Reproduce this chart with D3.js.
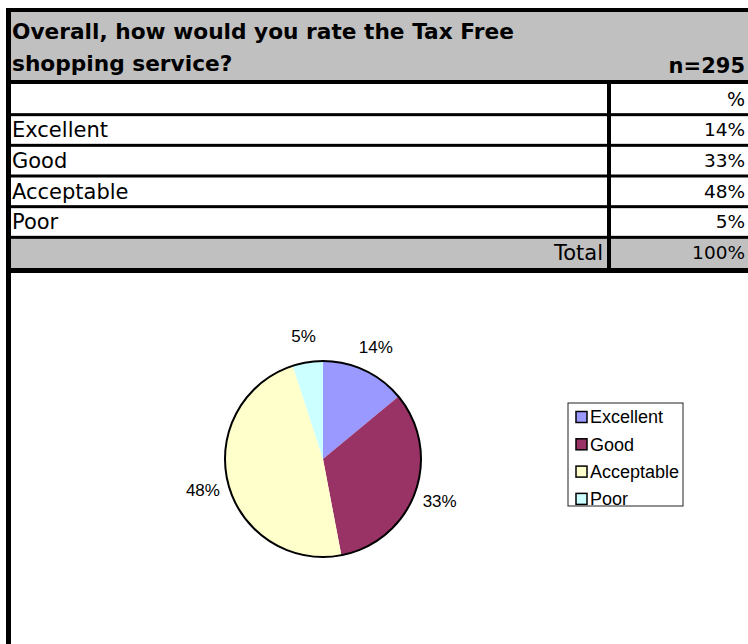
<!DOCTYPE html>
<html>
<head>
<meta charset="utf-8">
<script src="https://cdn.jsdelivr.net/npm/d3@7"></script>
<style>
  body { margin: 0; background: #fff; }
  svg { display: block; }
</style>
</head>
<body>
<div id="chart"></div>
<script>
// data
const titleLines = ["Overall, how would you rate the Tax Free", "shopping service?"];
const sampleLabel = "n=295";
const categories = ["Excellent", "Good", "Acceptable", "Poor"];
const percents = [14, 33, 48, 5];
const totalLabel = "Total";
const totalValue = "100%";
const sliceColors = ["#9999ff", "#993366", "#ffffcc", "#ccffff"];

const width = 748, height = 644;

let svg = d3.select("#chart").append("svg")
    .attr("width", width)
    .attr("height", height);

// table layout
let rowKeys = ["%"].concat(categories).concat([totalLabel]);
let y = d3.scaleBand()
    .domain(rowKeys)
    .range([84, 268])
    .padding(0);

let rowFont = "'DejaVu Sans', sans-serif";

// header
svg.append("rect").attr("x", 11).attr("y", 12).attr("width", width - 11).attr("height", 68).attr("fill", "#c0c0c0");
// total row
svg.append("rect").attr("x", 11).attr("y", y(totalLabel)).attr("width", width - 11).attr("height", y.bandwidth()).attr("fill", "#c0c0c0");

// borders
svg.append("rect").attr("x", 6).attr("y", 8).attr("width", width - 6).attr("height", 4).attr("fill", "#000");
svg.append("rect").attr("x", 6).attr("y", 8).attr("width", 5).attr("height", height - 8).attr("fill", "#000");
svg.append("rect").attr("x", 11).attr("y", 80).attr("width", width - 11).attr("height", 4).attr("fill", "#000");
svg.append("rect").attr("x", 11).attr("y", 268).attr("width", width - 11).attr("height", 5).attr("fill", "#000");

// row separators
svg.selectAll(".row-line")
    .data(rowKeys.slice(1))
    .enter().append("rect")
    .attr("class", "row-line")
    .attr("x", 11)
    .attr("y", d => y(d) - 1.5)
    .attr("width", width - 11)
    .attr("height", 3)
    .attr("fill", "#000");

// column separator
svg.append("rect").attr("x", 607).attr("y", 84).attr("width", 4).attr("height", 184).attr("fill", "#000");

// title
svg.selectAll(".title")
    .data(titleLines)
    .enter().append("text")
    .attr("class", "title")
    .attr("x", 12)
    .attr("y", (d, i) => 31 + i * 32)
    .attr("dy", "0.35em")
    .style("font-family", rowFont)
    .style("font-weight", "bold")
    .style("font-size", "21.7px")
    .text(d => d);

svg.append("text")
    .attr("x", 745)
    .attr("y", 66)
    .attr("dy", "0.35em")
    .attr("text-anchor", "end")
    .style("font-family", rowFont)
    .style("font-weight", "bold")
    .style("font-size", "21px")
    .text(sampleLabel);

// row labels + values
let rows = categories.map((c, i) => ({label: c, value: percents[i] + "%"}));

svg.append("text")
    .attr("x", 745)
    .attr("y", y("%") + y.bandwidth() / 2)
    .attr("dy", "0.35em")
    .attr("text-anchor", "end")
    .style("font-family", rowFont)
    .style("font-size", "19px")
    .text("%");

svg.selectAll(".row-label")
    .data(rows)
    .enter().append("text")
    .attr("class", "row-label")
    .attr("x", 12)
    .attr("y", d => y(d.label) + y.bandwidth() / 2)
    .attr("dy", "0.35em")
    .style("font-family", rowFont)
    .style("font-size", "21px")
    .text(d => d.label);

svg.selectAll(".row-value")
    .data(rows)
    .enter().append("text")
    .attr("class", "row-value")
    .attr("x", 745)
    .attr("y", d => y(d.label) + y.bandwidth() / 2)
    .attr("dy", "0.35em")
    .attr("text-anchor", "end")
    .style("font-family", rowFont)
    .style("font-size", "18.5px")
    .text(d => d.value);

svg.append("text")
    .attr("x", 603)
    .attr("y", y(totalLabel) + y.bandwidth() / 2)
    .attr("dy", "0.35em")
    .attr("text-anchor", "end")
    .style("font-family", rowFont)
    .style("font-size", "21px")
    .text(totalLabel);

svg.append("text")
    .attr("x", 745)
    .attr("y", y(totalLabel) + y.bandwidth() / 2)
    .attr("dy", "0.35em")
    .attr("text-anchor", "end")
    .style("font-family", rowFont)
    .style("font-size", "18.5px")
    .text(totalValue);

// pie
let cx = 323, cy = 459, radius = 98;
let pie = d3.pie().sort(null).value(d => d);
let arcs = pie(percents);
let arc = d3.arc().innerRadius(0).outerRadius(radius);
let labelArc = d3.arc().innerRadius(124).outerRadius(124);

let g = svg.append("g").attr("transform", `translate(${cx},${cy})`);

g.selectAll(".slice")
    .data(arcs)
    .enter().append("path")
    .attr("class", "slice")
    .attr("d", arc)
    .attr("fill", (d, i) => sliceColors[i]);

g.append("circle")
    .attr("r", radius)
    .attr("fill", "none")
    .attr("stroke", "#000")
    .attr("stroke-width", 2);

g.selectAll(".pie-label")
    .data(arcs)
    .enter().append("text")
    .attr("class", "pie-label")
    .attr("transform", d => `translate(${labelArc.centroid(d)})`)
    .attr("text-anchor", "middle")
    .attr("dy", "0.35em")
    .style("font-family", "'Liberation Sans', Arial, sans-serif")
    .style("font-size", "17px")
    .text(d => d.data + "%");

// legend
let legend = svg.append("g").attr("transform", "translate(568,403)");
legend.append("rect")
    .attr("width", 115)
    .attr("height", 103)
    .attr("fill", "#fff")
    .attr("stroke", "#222")
    .attr("stroke-width", 1);

let items = legend.selectAll(".legend-item")
    .data(categories)
    .enter().append("g")
    .attr("class", "legend-item")
    .attr("transform", (d, i) => `translate(0,${14 + i * 27.3})`);

items.append("rect")
    .attr("x", 8)
    .attr("y", -5.5)
    .attr("width", 11)
    .attr("height", 11)
    .attr("fill", (d, i) => sliceColors[i])
    .attr("stroke", "#000")
    .attr("stroke-width", 1.5);

items.append("text")
    .attr("x", 22)
    .attr("dy", "0.35em")
    .style("font-family", "'Liberation Sans', Arial, sans-serif")
    .style("font-size", "18px")
    .text(d => d);
</script>
</body>
</html>
